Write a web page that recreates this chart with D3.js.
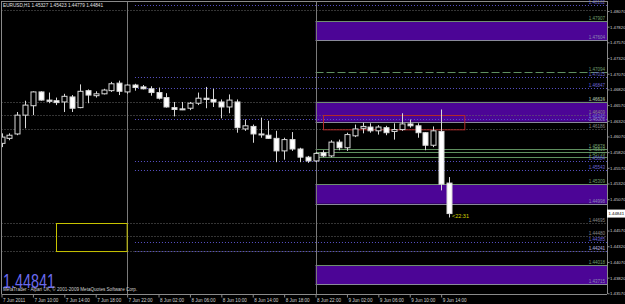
<!DOCTYPE html>
<html>
<head>
<meta charset="utf-8">
<script src="https://cdn.jsdelivr.net/npm/d3@7"></script>
<style>
  body { margin: 0; background: #000; }
  svg { display: block; font-family: "Liberation Sans", Arial, sans-serif; }
</style>
</head>
<body>
<div id="chart"></div>
<script>
// EURUSD H1, bar 0 = 7 Jun 2011 06:00
const opens  = [1.4596,1.4604,1.4611,1.4641,1.4656,1.4678,1.4665,1.4664,1.4662,1.4670,1.4653,1.4680,1.4672,1.4675,1.4680,1.4692,1.4678,1.4689,1.4686,1.4683,1.4677,1.4669,1.4653,1.4651,1.4652,1.4660,1.4668,1.4666,1.4662,1.4654,1.4662,1.4619,1.4623,1.4611,1.4609,1.4604,1.4584,1.4602,1.4587,1.4574,1.4568,1.4581,1.4576,1.4598,1.4589,1.4608,1.4620,1.4622,1.4616,1.4621,1.4615,1.4618,1.4627,1.4624,1.4613,1.4593,1.4615,1.45327];
const highs  = [1.4612,1.4612,1.4646,1.4664,1.4679,1.4679,1.4677,1.4669,1.4675,1.4673,1.4690,1.4682,1.4679,1.4683,1.4694,1.4696,1.4690,1.4691,1.4689,1.4687,1.4685,1.4676,1.4662,1.4662,1.4662,1.4677,1.4686,1.4683,1.4666,1.4674,1.4666,1.4634,1.4626,1.4637,1.4632,1.4616,1.4605,1.4614,1.4589,1.4576,1.4582,1.4585,1.4601,1.4602,1.4613,1.4626,1.4629,1.4628,1.4625,1.4624,1.4628,1.4644,1.4634,1.4628,1.4614,1.4623,1.4650,1.45423];
const lows   = [1.4590,1.4601,1.4609,1.4620,1.4641,1.4664,1.4660,1.4657,1.4646,1.4646,1.4652,1.4660,1.4669,1.4674,1.4678,1.4673,1.4675,1.4680,1.4682,1.4672,1.4666,1.4653,1.4639,1.4649,1.4649,1.4657,1.4652,1.4654,1.4636,1.4644,1.4613,1.4616,1.4597,1.4605,1.4603,1.4566,1.4570,1.4584,1.4566,1.4565,1.4566,1.4574,1.4574,1.4585,1.4584,1.4606,1.4612,1.4613,1.4610,1.4609,1.4602,1.4616,1.4621,1.4605,1.4585,1.4590,1.4521,1.44779];
const closes = [1.4606,1.4609,1.4641,1.4657,1.4678,1.4665,1.4663,1.4661,1.4671,1.4652,1.4679,1.4673,1.4675,1.4681,1.4691,1.4679,1.4689,1.4685,1.4683,1.4677,1.4668,1.4654,1.4650,1.4650,1.4660,1.4668,1.4666,1.4662,1.4654,1.4665,1.4621,1.4624,1.4611,1.4610,1.4604,1.4584,1.4602,1.4587,1.4574,1.4568,1.4580,1.4576,1.4598,1.4589,1.4610,1.4619,1.4623,1.4616,1.4622,1.4613,1.4618,1.4627,1.4624,1.4613,1.4593,1.4616,1.4531,1.44841];

const timeTickBars   = [0,4,8,12,16,20,24,28,32,36,40,44,48,52,56];
const timeTickLabels = ["7 Jun 2011","7 Jun 10:00","7 Jun 14:00","7 Jun 18:00","7 Jun 22:00","8 Jun 02:00","8 Jun 06:00","8 Jun 10:00","8 Jun 14:00","8 Jun 18:00","8 Jun 22:00","9 Jun 02:00","9 Jun 06:00","9 Jun 10:00","9 Jun 14:00"];
const priceTicks = [1.48070,1.47820,1.47570,1.47320,1.47070,1.46820,1.46570,1.46320,1.46070,1.45820,1.45570,1.45320,1.45070,1.44570,1.44320,1.44070,1.43820,1.43570];
const separatorBars = [16, 40];

// drawn objects
const zoneTops    = [1.47907, 1.46624, 1.45309, 1.44018];
const zoneBottoms = [1.47604, 1.46305, 1.44998, 1.43715];
const grayLevels   = [1.48083, 1.46616, 1.46409, 1.46186, 1.44695, 1.44480, 1.44241];
const purpleLevels = [1.48162, 1.47015, 1.46847, 1.46345, 1.45684, 1.45543, 1.44385, 1.44241];
const greenLevels  = [1.45878, 1.45819, 1.45739];
const greenDashLevel = 1.47094;
const redBox    = { bars: [41, 59], prices: [1.46409, 1.46181] };
const yellowBox = { bars: [7, 16], prices: [1.44688, 1.44241] };

const lastPrice = 1.44841;
const header = "EURUSD,H1  1.45327 1.45423 1.44779 1.44841";

const W = 625, H = 304;
const plot = { left: 1.5, right: 607, top: 1, bottom: 294 };

const x = d3.scaleLinear().domain([0, 57]).range([1.5, 449]);
const y = d3.scaleLinear().domain([1.43570, 1.48070]).range([293.3, 11]);
const fmt = d3.format(".5f");

const svg = d3.select("#chart").append("svg")
  .attr("width", W).attr("height", H)
  .attr("viewBox", `0 0 ${W} ${H}`)
  .style("background", "#000");

const defs = svg.append("defs");
defs.append("clipPath").attr("id", "plotclip")
  .append("rect")
  .attr("x", plot.left).attr("y", plot.top)
  .attr("width", plot.right - plot.left).attr("height", plot.bottom - plot.top);

const g = svg.append("g").attr("clip-path", "url(#plotclip)");

// zones
const zoneX = x(40);
zoneTops.forEach((top, i) => {
  g.append("rect")
    .attr("x", zoneX).attr("y", y(top))
    .attr("width", plot.right - zoneX)
    .attr("height", y(zoneBottoms[i]) - y(top))
    .attr("fill", "#4c0596");
});

// gray dotted full-width levels
grayLevels.forEach(p => {
  g.append("line")
    .attr("x1", plot.left).attr("x2", plot.right)
    .attr("y1", Math.round(y(p)) + 0.5).attr("y2", Math.round(y(p)) + 0.5)
    .attr("stroke", "#6a6a6a").attr("stroke-dasharray", "1,2");
});

// purple dotted levels start after the day separator
purpleLevels.forEach(p => {
  g.append("line")
    .attr("x1", x(17)).attr("x2", plot.right)
    .attr("y1", Math.round(y(p)) + 0.5).attr("y2", Math.round(y(p)) + 0.5)
    .attr("stroke", "#5a52c8").attr("stroke-dasharray", "1,2");
});

// zone edges
zoneTops.forEach((top, i) => {
  g.append("line")
    .attr("x1", zoneX).attr("x2", plot.right)
    .attr("y1", Math.round(y(top)) + 0.5).attr("y2", Math.round(y(top)) + 0.5)
    .attr("stroke", "#6f8f6f");
  g.append("line")
    .attr("x1", zoneX).attr("x2", plot.right)
    .attr("y1", Math.round(y(zoneBottoms[i])) + 0.5).attr("y2", Math.round(y(zoneBottoms[i])) + 0.5)
    .attr("stroke", "#8a8a9a");
});

// green levels
greenLevels.forEach(p => {
  g.append("line")
    .attr("x1", zoneX).attr("x2", plot.right)
    .attr("y1", Math.round(y(p)) + 0.5).attr("y2", Math.round(y(p)) + 0.5)
    .attr("stroke", "#5f8f5f");
});
g.append("line")
  .attr("x1", zoneX).attr("x2", plot.right)
  .attr("y1", Math.round(y(greenDashLevel)) + 0.5).attr("y2", Math.round(y(greenDashLevel)) + 0.5)
  .attr("stroke", "#5f8f5f").attr("stroke-dasharray", "8,3");

// day separators
separatorBars.forEach(b => {
  g.append("line")
    .attr("x1", Math.round(x(b)) + 0.5).attr("x2", Math.round(x(b)) + 0.5)
    .attr("y1", plot.top).attr("y2", plot.bottom)
    .attr("stroke", "#7a7a7a");
});

// rectangles
g.append("rect")
  .attr("x", Math.round(x(redBox.bars[0])) + 0.5).attr("y", Math.round(y(redBox.prices[0])) + 0.5)
  .attr("width", x(redBox.bars[1]) - x(redBox.bars[0]))
  .attr("height", y(redBox.prices[1]) - y(redBox.prices[0]))
  .attr("fill", "none").attr("stroke", "#b02a2a");
g.append("rect")
  .attr("x", Math.round(x(yellowBox.bars[0])) + 0.5).attr("y", Math.round(y(yellowBox.prices[0])) + 0.5)
  .attr("width", x(yellowBox.bars[1]) - x(yellowBox.bars[0]))
  .attr("height", y(yellowBox.prices[1]) - y(yellowBox.prices[0]))
  .attr("fill", "none").attr("stroke", "#c8c400");

// candles
const bars = d3.range(opens.length).map(i => ({ i, o: opens[i], h: highs[i], l: lows[i], c: closes[i] }));
const bodyW = 5;
const candle = g.selectAll(".candle").data(bars).join("g").attr("class", "candle");
candle.append("line")
  .attr("x1", d => Math.round(x(d.i)) + 0.5).attr("x2", d => Math.round(x(d.i)) + 0.5)
  .attr("y1", d => y(d.h)).attr("y2", d => y(d.l))
  .attr("stroke", "#d8d8d8");
candle.append("rect")
  .attr("x", d => Math.round(x(d.i)) - bodyW / 2 + 0.5)
  .attr("y", d => y(Math.max(d.o, d.c)))
  .attr("width", bodyW)
  .attr("height", d => Math.max(1, Math.abs(y(d.o) - y(d.c))))
  .attr("fill", d => d.c < d.o ? "#ffffff" : "#000")
  .attr("stroke", "#d8d8d8");

// level labels (right end, above the line)
const lbl = (p, color) => {
  svg.append("text")
    .attr("x", plot.right - 2).attr("y", y(p) - 1)
    .attr("text-anchor", "end")
    .attr("font-size", "4.5px")
    .attr("fill", color)
    .text(fmt(p));
};
zoneTops.forEach(p => lbl(p, "#6f9f6f"));
zoneBottoms.forEach(p => lbl(p, "#8a8ab0"));
greenLevels.forEach(p => lbl(p, "#6f9f6f"));
lbl(greenDashLevel, "#6f9f6f");
purpleLevels.forEach(p => lbl(p, "#6a62d8"));
grayLevels.slice(1).forEach(p => lbl(p, "#8a8a8a"));

// frame
svg.append("line").attr("x1", plot.left).attr("x2", plot.right).attr("y1", 1.5).attr("y2", 1.5).attr("stroke", "#8a8a8a");
svg.append("line").attr("x1", 1.5).attr("x2", 1.5).attr("y1", 1).attr("y2", plot.bottom).attr("stroke", "#8a8a8a");

// right price axis
const rightAxis = d3.axisRight(y).tickValues(priceTicks).tickFormat(fmt).tickSize(2).tickPadding(0.5);
const ra = svg.append("g").attr("transform", `translate(${plot.right + 0.5},0)`).call(rightAxis);
ra.select(".domain").attr("stroke", "#8a8a8a").attr("d", `M0,${plot.top}V${plot.bottom}`);
ra.selectAll(".tick line").attr("stroke", "#8a8a8a");
ra.selectAll(".tick text").attr("fill", "#d0d0d0").attr("font-size", "4.3px").attr("font-family", "Liberation Sans, Arial, sans-serif");

// bottom time axis
const bottomAxis = d3.axisBottom(x).tickValues(timeTickBars).tickFormat((d, i) => timeTickLabels[i]).tickSize(3).tickPadding(1);
const ba = svg.append("g").attr("transform", `translate(0,${plot.bottom + 0.5})`).call(bottomAxis);
ba.select(".domain").attr("stroke", "#8a8a8a").attr("d", `M${plot.left},0H${plot.right}`);
ba.selectAll(".tick line").attr("stroke", "#8a8a8a");
ba.selectAll(".tick text").attr("fill", "#d0d0d0").attr("font-size", "4.6px")
  .attr("text-anchor", "start").attr("x", 1).attr("font-family", "Liberation Sans, Arial, sans-serif");

// current price box
const ly = y(lastPrice);
svg.append("rect").attr("x", plot.right).attr("y", ly - 4).attr("width", 18).attr("height", 8).attr("fill", "#fff");
svg.append("text").attr("x", plot.right + 1.5).attr("y", ly + 1.6)
  .attr("font-size", "4.3px").attr("fill", "#000").text(fmt(lastPrice));

// countdown
svg.append("text").attr("x", x(57) + 3).attr("y", ly + 4)
  .attr("font-size", "5.5px").attr("fill", "#d8d400").text("<22:31");

// header
svg.append("text").attr("x", 3).attr("y", 7).attr("font-size", "4.7px").attr("fill", "#e0e0e0").text(header);

// big price
svg.append("text").attr("transform", "translate(3,288) scale(0.74,1)")
  .attr("font-size", "19.5px").attr("fill", "#6a6aee").text(fmt(lastPrice));

// copyright
svg.append("text").attr("x", 3).attr("y", 291).attr("font-size", "4.6px").attr("fill", "#d0d0d0")
  .text("MetaTrader - Alpari UK, \u00a9 2001-2009 MetaQuotes Software Corp.");
</script>
</body>
</html>
